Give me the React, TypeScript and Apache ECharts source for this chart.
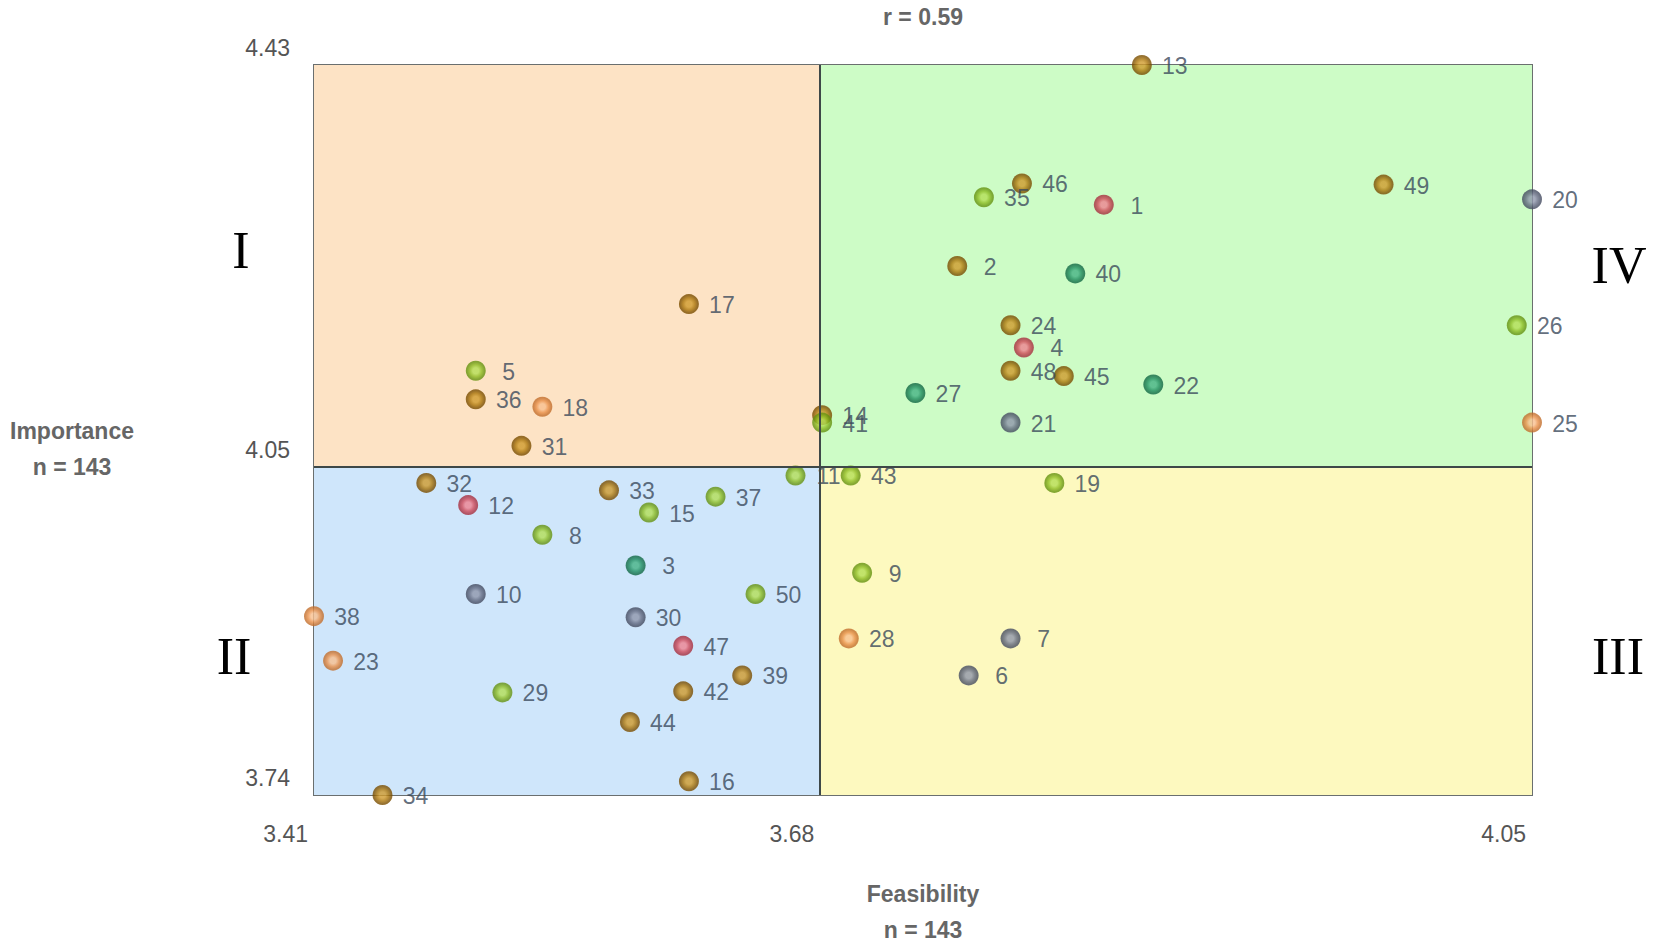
import React, { useEffect, useRef } from "react";
import * as echarts from "echarts";

// item i (0-based) is project number i+1
const feasibility = [
  3.825, 3.748, 3.579, 3.783, 3.495, 3.754, 3.776, 3.53, 3.698, 3.495,
  3.663, 3.491, 3.845, 3.677, 3.586, 3.607, 3.607, 3.53, 3.799, 4.05,
  3.776, 3.851, 3.42, 3.776, 4.05, 4.042, 3.726, 3.691, 3.509, 3.579,
  3.519, 3.469, 3.565, 3.446, 3.762, 3.495, 3.621, 3.41, 3.635, 3.81,
  3.677, 3.604, 3.692, 3.576, 3.804, 3.782, 3.604, 3.776, 3.972, 3.642,
];
const importance = [
  4.298, 4.24, 3.957, 4.163, 4.141, 3.853, 3.888, 3.986, 3.95, 3.93,
  4.042, 4.014, 4.43, 4.099, 4.007, 3.753, 4.204, 4.107, 4.035, 4.303,
  4.092, 4.128, 3.867, 4.184, 4.092, 4.184, 4.12, 3.888, 3.837, 3.908,
  4.07, 4.035, 4.028, 3.74, 4.305, 4.114, 4.022, 3.909, 3.853, 4.233,
  4.092, 3.838, 4.042, 3.809, 4.136, 4.318, 3.881, 4.141, 4.317, 3.93,
];
const group = [
  "red", "brown", "teal", "red", "lime", "slate", "slate", "lime", "lime", "slate",
  "lime", "red", "brown", "brown", "lime", "brown", "brown", "orange", "lime", "slate",
  "slate", "teal", "orange", "brown", "orange", "lime", "teal", "orange", "lime", "slate",
  "brown", "brown", "brown", "brown", "lime", "brown", "lime", "orange", "brown", "teal",
  "lime", "brown", "lime", "brown", "brown", "brown", "red", "brown", "brown", "lime",
];

const xRange = [3.41, 4.05];
const yRange = [3.74, 4.43];
const xMean = 3.676;
const yMean = 4.05;
const xTickValues = [3.41, 3.676, 4.05];
const yTickValues = [3.74, 4.05, 4.43];
const quadrantNames = ["I", "II", "III", "IV"];
const correlationText = "r = 0.59";
const xTitle = ["Feasibility", "n = 143"];
const yTitle = ["Importance", "n = 143"];

const groupColors: Record<string, string[]> = {
  brown: ["#cf9a2c", "#aa7408", "#7c4f00"],
  lime: ["#b3de55", "#8bbb20", "#679411"],
  red: ["#ee8290", "#d04958", "#a93040"],
  teal: ["#45b284", "#1e8d5f", "#116a45"],
  slate: ["#8f96ab", "#646b82", "#474e63"],
  orange: ["#f8bf8e", "#e98f48", "#c4702e"],
};

function grad(g: string) {
  const c = groupColors[g];
  return new echarts.graphic.RadialGradient(0.5, 0.5, 0.5, [
    { offset: 0, color: c[0] },
    { offset: 0.3, color: c[0] },
    { offset: 0.6, color: c[1] },
    { offset: 0.88, color: c[2] },
    { offset: 1, color: c[2] },
  ]);
}

export default function App() {
  const ref = useRef<HTMLDivElement>(null);
  useEffect(() => {
    document.body.style.margin = "0";
    if (!ref.current) return;
    const chart = echarts.init(ref.current, undefined, { renderer: "svg" });

    const data = feasibility.map((x, i) => ({
      value: [x, importance[i], i + 1],
      itemStyle: { color: grad(group[i]) },
    }));

    const font = "Liberation Sans";
    const titleStyle = { fontSize: 23, fontWeight: "bold", fontFamily: font, fill: "#666", align: "center", verticalAlign: "middle" };
    const romanStyle = { fontSize: 52, fontFamily: "Liberation Serif", fill: "#000", align: "center", verticalAlign: "middle" };

    chart.setOption({
      animation: false,
      grid: {
        left: 314, top: 65, right: 122, bottom: 153,
        show: true, borderColor: "#6a6f6f", borderWidth: 2,
        backgroundColor: "transparent",
        containLabel: false, outerBoundsMode: "none",
      },
      xAxis: {
        type: "value", min: xRange[0], max: xRange[1],
        axisLine: { show: false }, axisTick: { show: false }, splitLine: { show: false },
        axisLabel: {
          customValues: xTickValues,
          formatter: (v: number) => v.toFixed(2),
          align: "right", padding: [0, 6, 0, 0], margin: 27,
          color: "#555", fontSize: 23, fontFamily: font,
        },
      },
      yAxis: {
        type: "value", min: yRange[0], max: yRange[1],
        axisLine: { show: false }, axisTick: { show: false }, splitLine: { show: false },
        axisLabel: {
          customValues: yTickValues,
          formatter: (v: number) => v.toFixed(2),
          verticalAlign: "bottom", padding: [0, 0, 6, 0], margin: 24,
          color: "#555", fontSize: 23, fontFamily: font,
        },
      },
      graphic: [
        { type: "text", x: 923, y: 17, style: { text: correlationText, ...titleStyle } },
        { type: "text", x: 72, y: 431, style: { text: yTitle[0], ...titleStyle } },
        { type: "text", x: 72, y: 467, style: { text: yTitle[1], ...titleStyle } },
        { type: "text", x: 923, y: 894, style: { text: xTitle[0], ...titleStyle } },
        { type: "text", x: 923, y: 930, style: { text: xTitle[1], ...titleStyle } },
        { type: "text", x: 241, y: 250, style: { text: quadrantNames[0], ...romanStyle } },
        { type: "text", x: 234, y: 656, style: { text: quadrantNames[1], ...romanStyle } },
        { type: "text", x: 1618, y: 656, style: { text: quadrantNames[2], ...romanStyle } },
        { type: "text", x: 1619, y: 265, style: { text: quadrantNames[3], ...romanStyle } },
      ],
      series: [
        {
          type: "scatter",
          clip: false,
          symbolSize: 20,
          data,
          z: 3,
          label: {
            show: true,
            position: "inside",
            offset: [33, 1],
            align: "center",
            verticalAlign: "middle",
            formatter: (p: any) => String(p.value[2]),
            color: "#3a495b",
            fontSize: 23,
            fontFamily: font,
          },
          emphasis: { disabled: true },
          markArea: {
            silent: true,
            itemStyle: { borderWidth: 0 },
            data: [
              [{ coord: [xRange[0], yMean], itemStyle: { color: "#fde3c5" } }, { coord: [xMean, yRange[1]] }],
              [{ coord: [xMean, yMean], itemStyle: { color: "#cdfcc6" } }, { coord: [xRange[1], yRange[1]] }],
              [{ coord: [xRange[0], yRange[0]], itemStyle: { color: "#cfe6fb" } }, { coord: [xMean, yMean] }],
              [{ coord: [xMean, yRange[0]], itemStyle: { color: "#fdf9bf" } }, { coord: [xRange[1], yMean] }],
            ],
          },
          markLine: {
            silent: true,
            symbol: "none",
            precision: 4,
            label: { show: false },
            lineStyle: { color: "#3e4848", width: 2, type: "solid" },
            data: [
              [{ coord: [xMean, yRange[0]] }, { coord: [xMean, yRange[1]] }],
              [{ coord: [xRange[0], yMean] }, { coord: [xRange[1], yMean] }],
            ],
          },
        },
      ],
    });
    return () => chart.dispose();
  }, []);
  return <div ref={ref} style={{ width: 1654, height: 948 }} />;
}
